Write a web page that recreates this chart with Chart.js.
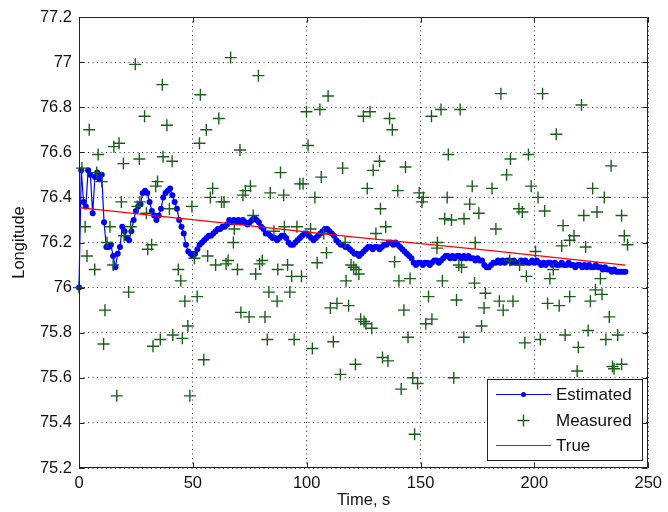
<!DOCTYPE html>
<html>
<head>
<meta charset="utf-8">
<script src="https://cdn.jsdelivr.net/npm/chart.js@4.4.1/dist/chart.umd.min.js"></script>
<style>
  html, body { margin: 0; padding: 0; background: #fff; }
  #wrap { width: 668px; height: 512px; }
</style>
</head>
<body>
<div id="wrap"><canvas id="lonChart"></canvas></div>
<script>
const xTicks = [0, 50, 100, 150, 200, 250];
const yTicks = [75.2, 75.4, 75.6, 75.8, 76, 76.2, 76.4, 76.6, 76.8, 77, 77.2];

// filter output, one sample per second starting at t = 0
const estimated = [
  76.00, 76.52, 76.38, 76.36, 76.52, 76.50, 76.33, 76.49, 76.51, 76.48,
  76.50, 76.29, 76.18, 76.18, 76.19, 76.14, 76.09, 76.15, 76.18, 76.27,
  76.25, 76.22, 76.21, 76.25, 76.30, 76.34, 76.36, 76.37, 76.42, 76.43,
  76.42, 76.38, 76.34, 76.32, 76.30, 76.32, 76.35, 76.40, 76.42, 76.43,
  76.44, 76.41, 76.38, 76.35, 76.30, 76.27, 76.24, 76.19, 76.16, 76.15,
  76.14, 76.15, 76.17, 76.19, 76.20, 76.21, 76.22, 76.23, 76.23, 76.24,
  76.25, 76.26, 76.26, 76.27, 76.27, 76.28, 76.30, 76.29, 76.30, 76.29,
  76.30, 76.29, 76.30, 76.29, 76.28, 76.29, 76.30, 76.31, 76.30, 76.29,
  76.27, 76.26, 76.24, 76.24, 76.23, 76.22, 76.22, 76.21, 76.22, 76.23,
  76.23, 76.22, 76.20, 76.19, 76.19, 76.20, 76.21, 76.22, 76.23, 76.24,
  76.24, 76.23, 76.22, 76.21, 76.22, 76.23, 76.24, 76.25, 76.26, 76.26,
  76.25, 76.24, 76.23, 76.21, 76.20, 76.19, 76.19, 76.18, 76.18, 76.17,
  76.16, 76.15, 76.15, 76.14, 76.15, 76.16, 76.17, 76.18, 76.18, 76.17,
  76.18, 76.18, 76.17, 76.18, 76.19, 76.19, 76.20, 76.20, 76.19, 76.20,
  76.19, 76.18, 76.17, 76.16, 76.15, 76.14, 76.13, 76.11, 76.10, 76.11,
  76.11, 76.10, 76.11, 76.11, 76.10, 76.11, 76.12, 76.12, 76.11, 76.12,
  76.13, 76.14, 76.14, 76.13, 76.14, 76.13, 76.14, 76.14, 76.13, 76.14,
  76.13, 76.14, 76.13, 76.13, 76.12, 76.13, 76.12, 76.12, 76.10, 76.09,
  76.09, 76.10, 76.11, 76.11, 76.12, 76.11, 76.12, 76.11, 76.12, 76.12,
  76.11, 76.12, 76.11, 76.11, 76.12, 76.11, 76.12, 76.11, 76.11, 76.12,
  76.11, 76.12, 76.11, 76.10, 76.11, 76.10, 76.11, 76.11, 76.10, 76.11,
  76.10, 76.10, 76.11, 76.10, 76.10, 76.11, 76.10, 76.10, 76.09, 76.10,
  76.10, 76.09, 76.10, 76.09, 76.10, 76.09, 76.09, 76.10, 76.09, 76.09,
  76.08, 76.09, 76.08, 76.08, 76.07, 76.08, 76.07, 76.07, 76.07, 76.07,
  76.07
];

const trueT = [0, 60, 120, 180, 240];
const trueLon = [76.355, 76.29, 76.225, 76.165, 76.10];

// raw GPS fixes
const measuredT = [
  0, 1.3, 2.7, 3.5, 4.5, 6.9, 7.8, 8.4, 10, 10.8, 11.4, 12.3, 13.6, 15, 15.3, 16.6,
  17.6, 18.6, 19.5, 19.8, 21.8, 22.7, 24.7, 25.6, 26.5, 26.7, 28.8, 29.6, 30.2, 31.9,
  32.5, 33.7, 34.5, 35.7, 36.6, 36.9, 38.6, 39.7, 40.9, 41.2, 43.6, 44.7, 45.4, 46.5,
  47.8, 48.7, 49.6, 50.7, 51.9, 52.9, 53.3, 54.8, 55.9, 56.5, 57.7, 58.7, 60, 61.4,
  62.6, 63.7, 64.6, 65.5, 66.6, 67.8, 68.2, 69.6, 70.7, 71.1, 72, 73.1, 74.7, 75.3,
  76.5, 77.6, 78.8, 79.3, 80.5, 81.7, 82.7, 83.4, 84, 85.6, 87, 87.3, 88.5, 89.9,
  90.2, 91.6, 92.6, 93.4, 94.5, 95.7, 97, 97.7, 98.4, 99.9, 100.6, 101.7, 102.5, 103.6,
  104.6, 105.8, 106.4, 107.5, 108.7, 109.4, 110.4, 111.7, 113.3, 114.8, 115.8, 116.9,
  117.3, 118.4, 119.5, 120.6, 121.4, 121.7, 122.9, 123.7, 124.9, 125.2, 126, 126.6,
  127.8, 128.6, 129.2, 130.4, 132, 132.4, 133.3, 134.7, 135.7, 136.4, 137.6, 138.6,
  140, 140.5, 141.5, 142.7, 143.4, 144.5, 145.4, 146.6, 147.4, 148.7, 149.4, 150.6,
  151.2, 152.3, 153.5, 154.8, 155, 157.2, 157.4, 159, 159.6, 160.6, 161.7, 162.2,
  163.6, 164.6, 165.8, 166.8, 167.4, 168, 169, 169.1, 171.6, 172.7, 173.7, 174,
  175.6, 176.8, 177.9, 178.5, 181.4, 183.1, 184.6, 185.3, 186.3, 187.8, 189.2, 189.5,
  190.6, 193.2, 193.5, 194.7, 195.8, 196.5, 197.4, 198.6, 200.5, 201.6, 202.6, 203.6,
  204.5, 205.8, 206.8, 208.3, 209.6, 210.9, 212, 212.6, 213.5, 215.5, 215.5, 217.4,
  218.8, 219.3, 220.7, 221.7, 222.5, 223.6, 224.6, 225.6, 226.8, 227.5, 229, 229.7,
  230.7, 231.4, 232.9, 233.7, 234.3, 235, 236.6, 238.3, 238.3, 239.5, 240.9
];
const measuredLon = [
  76.00, 76.53, 76.27, 76.14, 76.70, 76.08, 76.51, 76.59, 76.47, 75.75, 75.90, 76.20, 76.27, 76.10, 76.625, 75.52,
  76.64, 76.38, 76.55, 76.23, 75.98, 76.27, 76.99, 76.36, 76.57, 76.38, 76.76, 76.33, 76.17, 76.19,
  75.74, 76.45, 76.47, 75.77, 76.90, 76.58, 76.72, 76.35, 76.56, 75.79, 76.08, 76.03, 75.775, 75.94,
  75.83, 75.52, 76.36, 76.13, 75.96, 76.64, 76.855, 75.68, 76.70, 76.14, 76.40, 76.44, 76.10, 76.75,
  76.38, 76.38, 76.105, 76.12, 77.02, 76.20, 76.26, 76.08, 76.61, 75.89, 76.41, 76.43, 75.87, 76.45,
  76.32, 76.06, 76.94, 76.105, 76.12, 75.87, 75.77, 75.98, 76.42, 76.25, 75.94, 76.08, 76.51, 76.41,
  76.27, 76.10, 75.98, 76.05, 75.77, 76.27, 76.46, 76.05, 76.46, 76.78, 76.63, 76.26, 75.73, 76.40,
  76.11, 76.79, 76.49, 76.24, 76.155, 76.85, 75.91, 75.76, 75.93, 75.615, 76.53, 76.20,
  76.03, 75.92, 76.10, 76.09, 75.66, 76.08, 76.06, 75.86, 76.76, 75.85, 75.84, 76.44,
  76.78, 75.82, 76.52, 76.24, 76.56, 76.35, 75.69, 76.27, 75.675, 76.75, 76.70, 76.115,
  76.43, 76.03, 75.55, 75.90, 76.535, 75.78, 76.04, 75.60, 75.35, 75.575, 76.42, 76.38,
  76.40, 75.84, 75.96, 76.76, 75.86, 76.175, 76.20, 76.79, 76.03, 76.305, 76.40, 76.59,
  76.30, 75.60, 75.945, 76.10, 76.79, 76.09, 75.78, 76.305, 76.37, 76.45, 76.02, 76.20,
  76.33, 75.83, 75.91, 75.975, 76.44, 76.26, 75.94, 76.86, 75.90, 76.50, 76.12, 76.57,
  75.94, 76.35, 76.10, 76.335, 75.755, 76.05, 76.59, 76.45, 76.16, 76.40, 75.77, 76.86,
  76.34, 75.93, 76.04, 76.08, 76.68, 75.92, 76.185, 76.275, 75.79, 76.21, 75.96, 76.23,
  75.63, 75.735, 76.81, 76.32, 76.18, 75.81, 75.94, 76.44, 75.99, 76.335, 76.04, 75.97,
  76.40, 75.77, 75.87, 76.54, 75.65, 75.64, 75.79, 76.32, 75.66, 76.23, 76.19
];

const FONT_FAMILY = '"Liberation Sans", Arial, Helvetica, sans-serif';
const TEXT_COLOR = '#111';

// box round the axes, inward ticks on all four sides, and the legend
const matlabFrame = {
  id: 'matlabFrame',
  afterDraw(chart) {
    const { ctx, chartArea: a, scales: { x, y } } = chart;
    const L = Math.round(a.left) + 0.5, R = Math.round(a.right) - 0.5;
    const T = Math.round(a.top) + 0.5, B = Math.round(a.bottom) - 0.5;
    const tickLen = 5;

    ctx.save();
    ctx.strokeStyle = '#222';
    ctx.lineWidth = 1;
    ctx.beginPath();
    ctx.rect(L, T, R - L, B - T);
    xTicks.forEach(v => {
      const px = Math.round(x.getPixelForValue(v)) + 0.5;
      ctx.moveTo(px, B); ctx.lineTo(px, B - tickLen);
      ctx.moveTo(px, T); ctx.lineTo(px, T + tickLen);
    });
    yTicks.forEach(v => {
      const py = Math.round(y.getPixelForValue(v)) + 0.5;
      ctx.moveTo(L, py); ctx.lineTo(L + tickLen, py);
      ctx.moveTo(R, py); ctx.lineTo(R - tickLen, py);
    });
    ctx.stroke();

    // legend box, lower right
    const box = { left: 487.5, top: 379.5, right: 642.5, bottom: 460.5 };
    ctx.fillStyle = '#fff';
    ctx.fillRect(box.left, box.top, box.right - box.left, box.bottom - box.top);
    ctx.strokeStyle = '#222';
    ctx.strokeRect(box.left, box.top, box.right - box.left, box.bottom - box.top);

    const rows = [394.5, 420.5, 445.5];
    const x0 = 496, x1 = 551, xm = 523.5;
    const ds = chart.data.datasets;

    // Estimated: line with dot
    ctx.strokeStyle = ds[0].borderColor;
    ctx.beginPath(); ctx.moveTo(x0, rows[0]); ctx.lineTo(x1, rows[0]); ctx.stroke();
    ctx.fillStyle = ds[0].borderColor;
    ctx.beginPath(); ctx.arc(xm, rows[0], 2.5, 0, Math.PI * 2); ctx.fill();

    // Measured: cross only
    ctx.strokeStyle = ds[1].borderColor;
    ctx.lineWidth = ds[1].borderWidth;
    ctx.beginPath();
    ctx.moveTo(xm - 6, rows[1]); ctx.lineTo(xm + 6, rows[1]);
    ctx.moveTo(xm, rows[1] - 6); ctx.lineTo(xm, rows[1] + 6);
    ctx.stroke();

    // True: plain line
    ctx.lineWidth = 1.2;
    ctx.strokeStyle = ds[2].borderColor;
    ctx.beginPath(); ctx.moveTo(x0, rows[2]); ctx.lineTo(x1, rows[2]); ctx.stroke();

    ctx.fillStyle = TEXT_COLOR;
    ctx.font = '17px ' + FONT_FAMILY;
    ctx.textAlign = 'left';
    ctx.textBaseline = 'middle';
    ds.forEach((d, i) => ctx.fillText(d.label, 556, rows[i] + 1));
    ctx.restore();
  }
};

const gridCommon = { color: '#333', lineWidth: 1, drawTicks: false };

new Chart(document.getElementById('lonChart'), {
  type: 'scatter',
  data: {
    datasets: [
      {
        label: 'Estimated',
        data: estimated.map((v, i) => ({ x: i, y: v })),
        showLine: true,
        borderColor: '#0000ff',
        backgroundColor: '#0000ff',
        borderWidth: 1.2,
        pointRadius: 3,
        pointBorderWidth: 0,
        pointBackgroundColor: '#0000ff',
        clip: false,
        order: 3
      },
      {
        label: 'Measured',
        data: measuredT.map((t, i) => ({ x: t, y: measuredLon[i] })),
        showLine: false,
        pointStyle: 'cross',
        pointRadius: 6,
        borderColor: '#1a5e1a',
        backgroundColor: '#1a5e1a',
        borderWidth: 1.4,
        clip: false,
        order: 2
      },
      {
        label: 'True',
        data: trueT.map((t, i) => ({ x: t, y: trueLon[i] })),
        showLine: true,
        borderColor: '#ff0000',
        borderWidth: 1.2,
        pointRadius: 0,
        order: 1
      }
    ]
  },
  options: {
    responsive: true,
    maintainAspectRatio: false,
    animation: false,
    layout: { padding: { top: 17, right: 13, left: 0, bottom: 0 } },
    plugins: {
      legend: { display: false },
      tooltip: { enabled: false }
    },
    scales: {
      x: {
        type: 'linear',
        min: 0,
        max: 250,
        afterBuildTicks: s => { s.ticks = xTicks.map(value => ({ value })); },
        afterFit: s => { s.height = 44; },
        grid: gridCommon,
        border: { display: false, dash: [1, 3.5] },
        ticks: {
          padding: 6,
          maxRotation: 0,
          autoSkip: false,
          color: TEXT_COLOR,
          font: { family: FONT_FAMILY, size: 16.5 }
        },
        title: {
          display: true,
          text: 'Time, s',
          color: TEXT_COLOR,
          font: { family: FONT_FAMILY, size: 16.5 },
          padding: { top: 0, bottom: 2 }
        }
      },
      y: {
        type: 'linear',
        min: 75.2,
        max: 77.2,
        afterBuildTicks: s => { s.ticks = yTicks.map(value => ({ value })); },
        afterFit: s => { s.width = 79; },
        grid: gridCommon,
        border: { display: false, dash: [1, 3.5] },
        ticks: {
          padding: 7,
          autoSkip: false,
          color: TEXT_COLOR,
          font: { family: FONT_FAMILY, size: 16.5 },
          callback: v => String(+Number(v).toFixed(1))
        },
        title: {
          display: true,
          text: 'Longitude',
          color: TEXT_COLOR,
          font: { family: FONT_FAMILY, size: 16.5 },
          padding: { top: 10, bottom: 0 }
        }
      }
    }
  },
  plugins: [matlabFrame]
});
</script>
</body>
</html>
